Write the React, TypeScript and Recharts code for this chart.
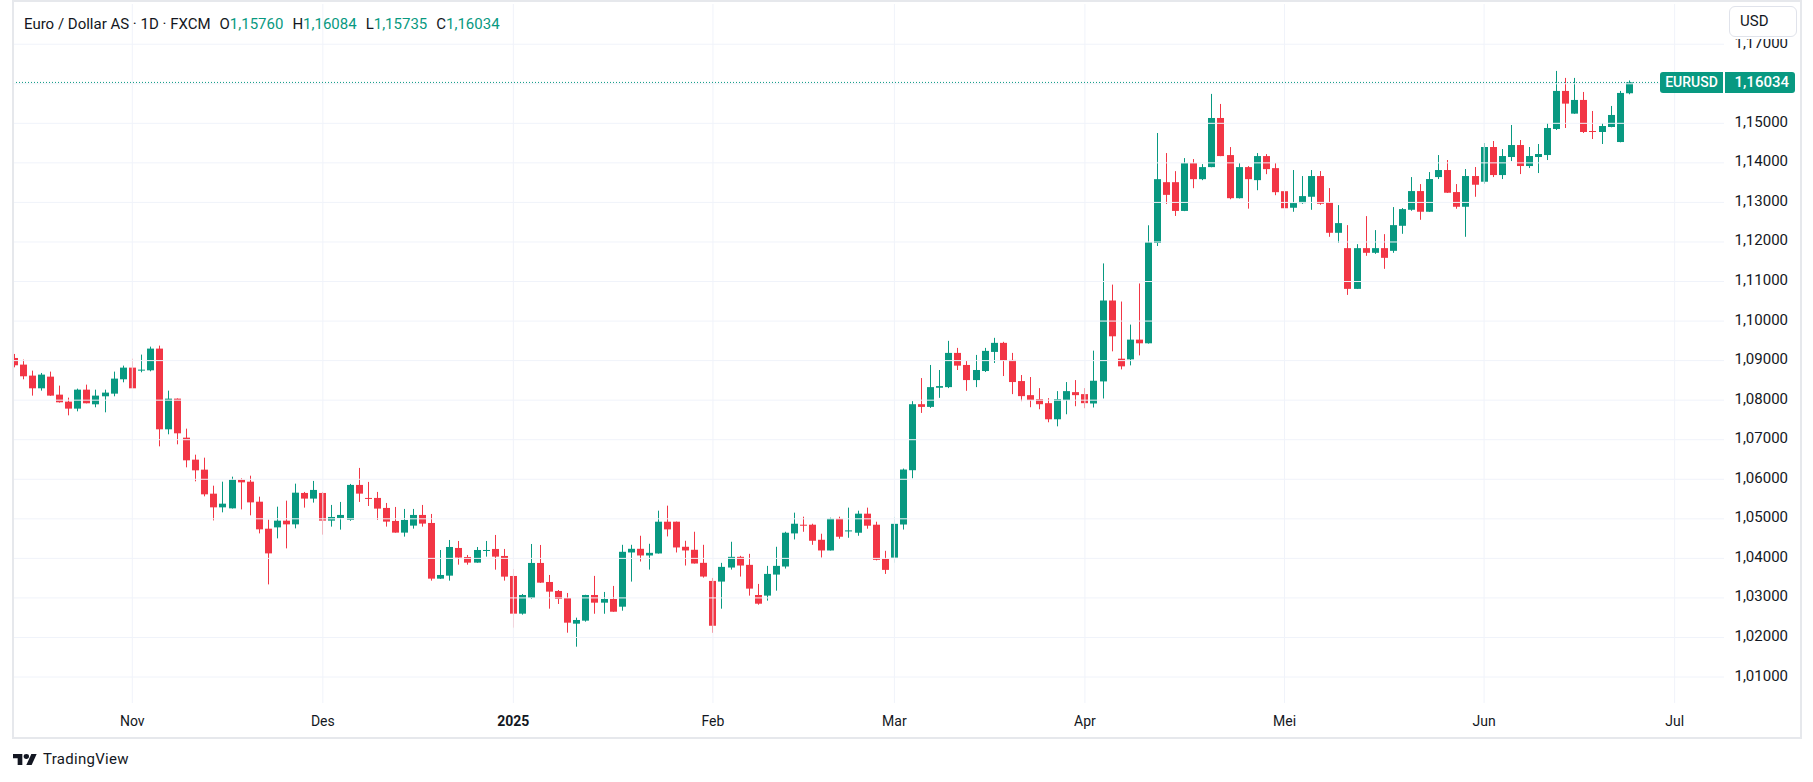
import React from 'react'
import { ComposedChart, Bar, XAxis, YAxis, ReferenceLine } from 'recharts'

// daily EUR/USD candles, 15 Oct 2024 .. 24 Jun 2025
const opens = [
  1.09067, 1.08899, 1.08621, 1.083, 1.08595, 1.0814, 1.07963, 1.07786, 1.08266, 1.07895,
  1.08098, 1.08165, 1.08528, 1.08823, 1.08747, 1.08755, 1.09304, 1.07263, 1.08039, 1.07052,
  1.06496, 1.06243, 1.05636, 1.0529, 1.05265, 1.0599, 1.05939, 1.05433, 1.0475, 1.04784,
  1.04953, 1.0486, 1.05654, 1.05511, 1.05654, 1.04954, 1.05022, 1.04973, 1.05857, 1.05528,
  1.05528, 1.05275, 1.04946, 1.04651, 1.04828, 1.05098, 1.04895, 1.03487, 1.03563, 1.04263,
  1.04035, 1.03892, 1.04196, 1.04238, 1.04061, 1.03555, 1.02602, 1.02998, 1.03884, 1.03403,
  1.03176, 1.02998, 1.02349, 1.02425, 1.03074, 1.0288, 1.02973, 1.02778, 1.04149, 1.04242,
  1.04073, 1.04124, 1.04927, 1.04927, 1.04293, 1.04217, 1.03887, 1.0343, 1.03413, 1.03768,
  1.04039, 1.03836, 1.03074, 1.03058, 1.0359, 1.03794, 1.04631, 1.04851, 1.04851, 1.0447,
  1.042, 1.05003, 1.04682, 1.04648, 1.0513, 1.04851, 1.03988, 1.04017, 1.04856, 1.06229,
  1.07898, 1.0783, 1.08314, 1.0833, 1.09195, 1.0889, 1.08508, 1.08737, 1.0922, 1.09449,
  1.09017, 1.08483, 1.08127, 1.08025, 1.07924, 1.07517, 1.08, 1.08203, 1.08153, 1.07916,
  1.08474, 1.1052, 1.09049, 1.09032, 1.09531, 1.09438, 1.11974, 1.13512, 1.13512, 1.12785,
  1.13994, 1.13588, 1.13893, 1.15135, 1.14197, 1.13107, 1.13893, 1.13563, 1.14172, 1.13867,
  1.13284, 1.12865, 1.12983, 1.13143, 1.13667, 1.13008, 1.12232, 1.11844, 1.10814, 1.11844,
  1.11726, 1.11844, 1.11776, 1.12409, 1.12814, 1.13287, 1.12764, 1.13641, 1.13819, 1.13262,
  1.1289, 1.13667, 1.13523, 1.14401, 1.13692, 1.14148, 1.14451, 1.1392, 1.14148, 1.14198,
  1.14857, 1.15819, 1.15245, 1.15591, 1.14806, 1.14781, 1.14907, 1.14527, 1.1576,
]
const highs = [
  1.09169, 1.09025, 1.08747, 1.08688, 1.08722, 1.08368, 1.08064, 1.08292, 1.08393, 1.08266,
  1.08266, 1.08722, 1.08874, 1.09051, 1.09152, 1.09354, 1.09379, 1.08241, 1.08045, 1.0728,
  1.06622, 1.06546, 1.05838, 1.05939, 1.06066, 1.06024, 1.06091, 1.0556, 1.04978, 1.05307,
  1.05459, 1.05889, 1.0568, 1.05958, 1.0568, 1.05351, 1.05427, 1.05882, 1.06287, 1.05933,
  1.0568, 1.05401, 1.053, 1.0525, 1.0525, 1.05351, 1.05123, 1.04212, 1.04465, 1.0444,
  1.04086, 1.04288, 1.0444, 1.04592, 1.04238, 1.03732, 1.031, 1.04364, 1.04339, 1.0358,
  1.032, 1.03125, 1.02501, 1.0308, 1.03557, 1.03151, 1.03303, 1.04343, 1.04343, 1.04572,
  1.04369, 1.05206, 1.05333, 1.0493, 1.04445, 1.04673, 1.04343, 1.03506, 1.03887, 1.0442,
  1.04064, 1.04115, 1.03354, 1.0381, 1.04293, 1.04673, 1.05156, 1.05054, 1.04876, 1.04623,
  1.05029, 1.05054, 1.05283, 1.05206, 1.05283, 1.04927, 1.04191, 1.05051, 1.06271, 1.07975,
  1.08559, 1.0889, 1.08763, 1.095, 1.09322, 1.08992, 1.09144, 1.09322, 1.09576, 1.09475,
  1.09195, 1.08636, 1.08585, 1.08305, 1.08051, 1.08229, 1.08458, 1.08508, 1.08305, 1.09252,
  1.11458, 1.10922, 1.10494, 1.09911, 1.10951, 1.12422, 1.14755, 1.14248, 1.13791, 1.14121,
  1.14096, 1.13969, 1.15744, 1.1549, 1.144, 1.13994, 1.13918, 1.14248, 1.14222, 1.13994,
  1.13411, 1.13819, 1.13667, 1.13819, 1.13793, 1.13363, 1.12932, 1.12426, 1.11945, 1.12654,
  1.123, 1.12198, 1.12882, 1.12857, 1.13641, 1.13464, 1.13768, 1.14198, 1.14072, 1.13464,
  1.13844, 1.13895, 1.14502, 1.14553, 1.1435, 1.14958, 1.14578, 1.14401, 1.14477, 1.15008,
  1.16325, 1.16148, 1.16148, 1.15793, 1.15312, 1.15008, 1.15439, 1.15819, 1.16084,
]
const lows = [
  1.08831, 1.08528, 1.08115, 1.08241, 1.0811, 1.0794, 1.07617, 1.07718, 1.0792, 1.0782,
  1.07693, 1.08098, 1.08452, 1.083, 1.08705, 1.0873, 1.06833, 1.07137, 1.06884, 1.06302,
  1.05948, 1.05568, 1.04961, 1.05164, 1.0526, 1.05239, 1.05088, 1.04632, 1.03342, 1.04506,
  1.04253, 1.04759, 1.05283, 1.0541, 1.046, 1.04803, 1.04727, 1.0495, 1.05427, 1.05325,
  1.04971, 1.04803, 1.0465, 1.0455, 1.04752, 1.04803, 1.03437, 1.0348, 1.03437, 1.03841,
  1.03841, 1.0389, 1.04044, 1.03715, 1.03437, 1.02248, 1.02577, 1.02973, 1.0338, 1.02728,
  1.02847, 1.02121, 1.01767, 1.024, 1.026, 1.026, 1.0265, 1.02677, 1.03413, 1.03921,
  1.03717, 1.0412, 1.04555, 1.04149, 1.03819, 1.0387, 1.03514, 1.02118, 1.02728, 1.03717,
  1.0354, 1.03058, 1.02829, 1.02931, 1.03184, 1.03743, 1.04479, 1.04673, 1.04343, 1.04022,
  1.042, 1.04496, 1.04521, 1.04572, 1.0475, 1.0395, 1.03607, 1.0389, 1.04729, 1.06025,
  1.07678, 1.07805, 1.08059, 1.08305, 1.08763, 1.08237, 1.0833, 1.08712, 1.08941, 1.0861,
  1.08153, 1.07975, 1.07822, 1.07771, 1.07441, 1.07339, 1.07644, 1.07847, 1.07797, 1.07815,
  1.08043, 1.09235, 1.08778, 1.0888, 1.09133, 1.0943, 1.11898, 1.12963, 1.12658, 1.1278,
  1.1336, 1.13563, 1.1389, 1.1417, 1.13081, 1.131, 1.12843, 1.13309, 1.13715, 1.13183,
  1.1265, 1.12764, 1.12966, 1.12814, 1.12941, 1.12131, 1.11979, 1.10662, 1.1081, 1.1165,
  1.117, 1.11321, 1.11726, 1.12207, 1.12789, 1.12561, 1.1276, 1.13591, 1.1324, 1.1284,
  1.12131, 1.13143, 1.13473, 1.13641, 1.13591, 1.14046, 1.13717, 1.13869, 1.13743, 1.14072,
  1.14831, 1.14882, 1.1524, 1.14755, 1.14603, 1.14477, 1.149, 1.1452, 1.15735,
]
const closes = [
  1.08882, 1.08604, 1.083, 1.08646, 1.08115, 1.07946, 1.07786, 1.08266, 1.07921, 1.08115,
  1.08191, 1.08545, 1.08823, 1.083, 1.08772, 1.09304, 1.07263, 1.08039, 1.07162, 1.06479,
  1.06226, 1.05619, 1.0529, 1.05383, 1.0599, 1.05922, 1.05416, 1.04734, 1.04126, 1.04953,
  1.0486, 1.05661, 1.05511, 1.0573, 1.04954, 1.05047, 1.05098, 1.05857, 1.05637, 1.05511,
  1.05258, 1.04929, 1.04651, 1.04971, 1.05098, 1.04879, 1.03487, 1.0358, 1.04288, 1.04019,
  1.03892, 1.04212, 1.04212, 1.04044, 1.03538, 1.02602, 1.03074, 1.03884, 1.03386, 1.03159,
  1.02973, 1.02374, 1.02442, 1.03074, 1.0288, 1.02973, 1.02651, 1.04166, 1.04242, 1.04073,
  1.0414, 1.04927, 1.04733, 1.04276, 1.042, 1.0387, 1.0354, 1.02296, 1.03785, 1.04039,
  1.03819, 1.03235, 1.02854, 1.03607, 1.0381, 1.04648, 1.04876, 1.04826, 1.04445, 1.042,
  1.05003, 1.04547, 1.04707, 1.0513, 1.04826, 1.03963, 1.03709, 1.04873, 1.06246, 1.07898,
  1.0783, 1.0833, 1.08356, 1.09195, 1.08873, 1.08508, 1.08763, 1.09246, 1.09449, 1.08992,
  1.08458, 1.08102, 1.08, 1.07898, 1.07517, 1.08025, 1.08229, 1.08127, 1.07924, 1.08491,
  1.1052, 1.09615, 1.08855, 1.09531, 1.09438, 1.11991, 1.13588, 1.13191, 1.12785, 1.13994,
  1.13588, 1.13893, 1.15135, 1.14172, 1.13107, 1.13893, 1.13588, 1.14172, 1.13842, 1.13259,
  1.12853, 1.12983, 1.1316, 1.13667, 1.12966, 1.12232, 1.12477, 1.10814, 1.11844, 1.11726,
  1.11844, 1.11599, 1.12426, 1.12831, 1.13287, 1.12764, 1.13591, 1.13819, 1.13245, 1.1289,
  1.13667, 1.13447, 1.14401, 1.13692, 1.14173, 1.14451, 1.1392, 1.14173, 1.14224, 1.14882,
  1.15819, 1.15498, 1.15591, 1.14781, 1.14789, 1.14932, 1.15211, 1.15768, 1.16034,
]

// first trading day of each month, as a bar number
const monthTicks = [14, 35, 56, 78, 98, 119, 141, 163, 184]
const monthLabels = ['Nov', 'Des', '2025', 'Feb', 'Mar', 'Apr', 'Mei', 'Jun', 'Jul']
const priceTicks = [1.01, 1.02, 1.03, 1.04, 1.05, 1.06, 1.07, 1.08, 1.09, 1.1, 1.11, 1.12, 1.13, 1.14, 1.15, 1.16, 1.17]
const lastBar = { o: 1.1576, h: 1.16084, l: 1.15735, c: 1.16034 }

const GREEN = '#089981'
const RED = '#F23645'
const TEXT = '#131722'
const GRID = '#f0f3fa'
const FONT = 'Roboto, "Noto Sans", sans-serif'

const data = opens.map((o, i) => ({ idx: i + 1, open: o, high: highs[i], low: lows[i], close: closes[i] }))

const fmt = (v: number) => v.toFixed(5).replace('.', ',')

function Candle(props: any) {
  const { x, y, width, height, payload } = props
  if (!payload) return null
  const { open, close, high, low } = payload
  const color = close >= open ? GREEN : RED
  const top = Math.min(y, y + height)
  const h = Math.abs(height)
  const span = high - low || 1e-9
  const yO = top + ((high - open) / span) * h
  const yC = top + ((high - close) / span) * h
  const cx = Math.floor(x + width / 2)
  const bTop = Math.min(yO, yC)
  const bH = Math.max(Math.abs(yC - yO), 1)
  return (
    <g>
      <rect x={cx} y={top} width={1} height={Math.max(h, 1)} fill={color} />
      <rect x={cx - 3} y={bTop} width={7} height={bH} fill={color} />
    </g>
  )
}

function PriceTick(props: any) {
  const { y, payload } = props
  return (
    <text x={1788} y={y + 3.5} textAnchor="end" fill={TEXT} fontSize={15} fontFamily={FONT}>
      {fmt(payload.value)}
    </text>
  )
}

function MonthTick(props: any) {
  const { x, payload } = props
  const i = monthTicks.indexOf(payload.value)
  const label = monthLabels[i] ?? ''
  return (
    <text x={x} y={726} textAnchor="middle" fill={TEXT} fontSize={14} fontFamily={FONT} fontWeight={label === '2025' ? 700 : 400}>
      {label}
    </text>
  )
}

function Header() {
  const val = { color: GREEN, marginRight: 9 }
  return (
    <div style={{ position: 'absolute', left: 24, top: 15, display: 'flex', fontFamily: FONT, fontSize: 15, lineHeight: '18px', color: TEXT, whiteSpace: 'pre' }}>
      <span style={{ marginRight: 9 }}>Euro / Dollar AS · 1D · FXCM</span>
      <span>O</span><span style={val}>{fmt(lastBar.o)}</span>
      <span>H</span><span style={val}>{fmt(lastBar.h)}</span>
      <span>L</span><span style={val}>{fmt(lastBar.l)}</span>
      <span>C</span><span style={val}>{fmt(lastBar.c)}</span>
    </div>
  )
}

function TvLogo() {
  return (
    <div style={{ position: 'absolute', left: 13, top: 750, height: 18, display: 'flex', alignItems: 'center', fontFamily: FONT }}>
      <svg width={24} height={11} viewBox="0 4 36 18" preserveAspectRatio="none">
        <path d="M14 22H7V11H0V4h14v18z" fill={TEXT} />
        <circle cx={20} cy={8} r={4} fill={TEXT} />
        <path d="M28 22h-8l7.5-18h8z" fill={TEXT} />
      </svg>
      <span style={{ marginLeft: 6, fontSize: 15, letterSpacing: 0.3, color: TEXT, lineHeight: '18px' }}>TradingView</span>
    </div>
  )
}

export default function App() {
  return (
    <div style={{ position: 'absolute', left: 0, top: 0, width: 1813, height: 782, background: '#ffffff', overflow: 'hidden' }}>
      <ComposedChart
        width={1813}
        height={782}
        data={data}
        margin={{ top: 4, right: 13, bottom: 46, left: 13 }}
      >
        <XAxis
          dataKey="idx"
          type="number"
          domain={[0.851, 189.44]}
          allowDataOverflow
          ticks={monthTicks}
          interval={0}
          height={33}
          tickLine={false}
          axisLine={false}
          tick={<MonthTick />}
        />
        <YAxis
          orientation="right"
          type="number"
          domain={[1.00343, 1.18017]}
          allowDataOverflow
          ticks={priceTicks}
          interval={0}
          width={76}
          tickLine={false}
          axisLine={false}
          tick={<PriceTick />}
        />
        {priceTicks.map((p) => (
          <ReferenceLine key={'h' + p} y={p} stroke={GRID} strokeWidth={1} />
        ))}
        {monthTicks.map((m) => (
          <ReferenceLine key={'v' + m} x={m} stroke={GRID} strokeWidth={1} />
        ))}
        <ReferenceLine y={lastBar.c} stroke={GREEN} strokeWidth={1} strokeDasharray="1 2" />
        <Bar
          dataKey={(d: any) => [d.low, d.high]}
          shape={<Candle />}
          barSize={7}
          isAnimationActive={false}
        />
      </ComposedChart>

      {/* chart frame */}
      <div style={{ position: 'absolute', left: 12, top: 0, width: 1790, height: 739, border: '2px solid #e6e8ec', boxSizing: 'border-box', pointerEvents: 'none' }} />

      <Header />

      {/* currency button, with the white strip it sits on */}
      <div style={{ position: 'absolute', left: 1725, top: 2, width: 75, height: 37, background: '#fff' }} />
      <div style={{ position: 'absolute', left: 1729, top: 6, width: 68, height: 31, boxSizing: 'border-box', border: '1px solid #e0e3eb', borderRadius: 6, background: '#fff', fontFamily: FONT, fontSize: 15, color: TEXT, lineHeight: '29px', paddingLeft: 10 }}>
        USD
      </div>

      {/* last price label */}
      <div style={{ position: 'absolute', left: 1660, top: 72, height: 21, display: 'flex', fontFamily: FONT, color: '#fff', lineHeight: '21px' }}>
        <div style={{ width: 63, background: GREEN, borderRadius: '3px 0 0 3px', fontSize: 14, fontWeight: 500, textAlign: 'center' }}>EURUSD</div>
        <div style={{ width: 2, background: '#fff' }} />
        <div style={{ width: 70, background: GREEN, borderRadius: '0 3px 3px 0', fontSize: 15, fontWeight: 500, textAlign: 'right', paddingRight: 6, boxSizing: 'border-box' }}>{fmt(lastBar.c)}</div>
      </div>

      <TvLogo />
    </div>
  )
}
